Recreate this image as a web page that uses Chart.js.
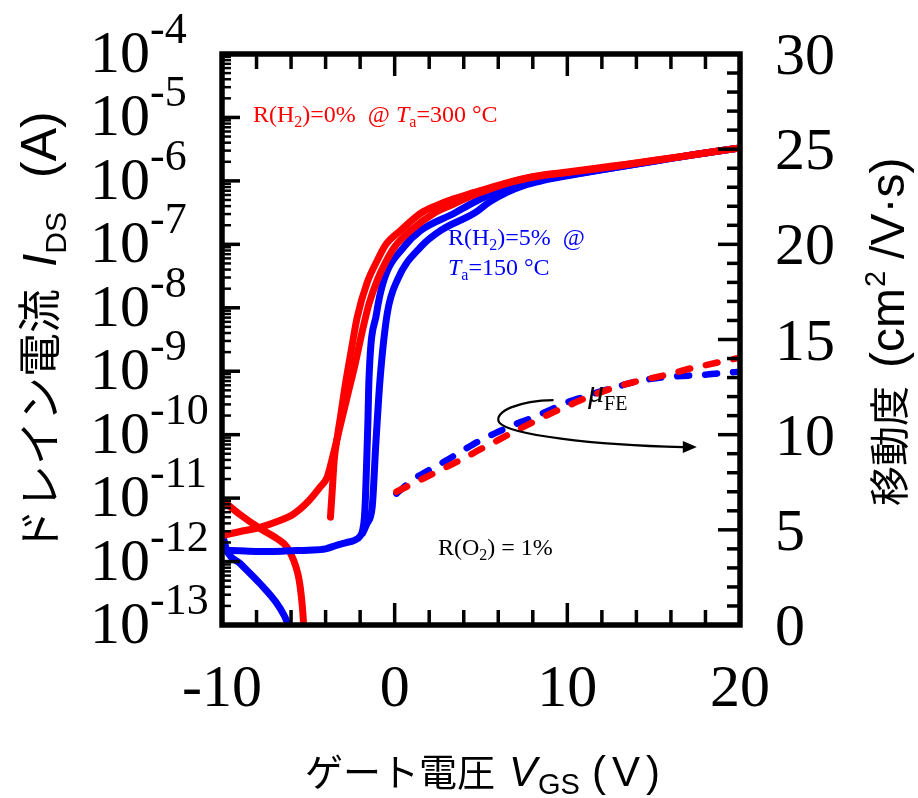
<!DOCTYPE html>
<html>
<head>
<meta charset="utf-8">
<script src="https://cdn.jsdelivr.net/npm/chart.js@4.4.1/dist/chart.umd.min.js"></script>
<style>
  html, body { margin: 0; padding: 0; background: #fff; }
  canvas { display: block; }
</style>
</head>
<body>
<canvas id="chart" width="918" height="798"></canvas>
<script>
// ---- data (V in volts, current as log10(A), mobility in cm2/Vs) ----
const redAV   = [-10, -9, -7.8, -6.8, -5.85, -5, -4.3, -3.91, -3.5, -3.1, -2.7, -2.3, -1.9, -1.5, -1.0, -0.5, 0, 0.93, 2.28, 3.45, 4.5, 5.5, 6.5, 7.5, 8.5, 10, 12.5, 15, 17.5, 20];
const redALog = [-11.59, -11.53, -11.46, -11.37, -11.25, -11.05, -10.82, -10.67, -10.25, -9.8, -9.35, -8.9, -8.4, -7.95, -7.56, -7.27, -7.04, -6.78, -6.51, -6.36, -6.23, -6.13, -6.04, -5.97, -5.92, -5.87, -5.78, -5.68, -5.58, -5.48];

const redBV   = [-3.72, -3.62, -3.5, -3.3, -3.1, -2.85, -2.5, -2.17, -1.59, -1.0, -0.5, 0.35, 1.51, 2.5, 3.45, 4.5, 5.5, 6.5, 7.5, 8.5, 10, 12.5, 15, 17.5, 20];
const redBLog = [-11.3, -10.9, -10.4, -10.0, -9.65, -9.2, -8.65, -8.15, -7.6, -7.25, -7.0, -6.78, -6.51, -6.38, -6.28, -6.19, -6.11, -6.03, -5.96, -5.91, -5.86, -5.77, -5.68, -5.58, -5.48];

const redGateV   = [-10, -9, -7.79, -6.8, -6.24, -5.85, -5.6, -5.47, -5.35, -5.27, -5.2];
const redGateLog = [-11.03, -11.25, -11.48, -11.64, -11.77, -11.98, -12.2, -12.4, -12.7, -13.0, -13.3];

const blueAV   = [-10, -9, -8, -7, -6, -5, -4, -3.33, -2.8, -2.37, -2.0, -1.85, -1.75, -1.69, -1.63, -1.55, -1.49, -1.05, -0.62, 0.54, 1.51, 3.45, 4.5, 5.5, 6.5, 7.5, 8.5, 10, 12.5, 15, 17.5, 20];
const blueALog = [-11.82, -11.83, -11.84, -11.84, -11.83, -11.82, -11.8, -11.74, -11.7, -11.67, -11.6, -11.5, -11.3, -10.98, -10.5, -9.8, -9.14, -8.09, -7.56, -7.04, -6.78, -6.51, -6.35, -6.22, -6.11, -6.03, -5.98, -5.91, -5.8, -5.69, -5.58, -5.48];

const blueBV   = [-1.85, -1.6, -1.3, -1.1, -0.85, -0.43, 0.16, 1.51, 2.67, 4.6, 5.5, 6.5, 7.5, 8.5, 10, 12.5, 15, 17.5, 20];
const blueBLog = [-11.55, -11.4, -11.14, -10.19, -9.14, -8.09, -7.56, -7.04, -6.78, -6.51, -6.33, -6.18, -6.07, -6.0, -5.92, -5.8, -5.69, -5.58, -5.48];

const blueGateV   = [-10, -9.85, -9.73, -8.95, -7.79, -6.82, -6.4, -6.0];
const blueGateLog = [-11.56, -11.7, -11.82, -12.03, -12.35, -12.66, -12.85, -13.1];

const muV     = [0.1, 1, 2, 3, 4, 5, 6, 7, 8, 9, 10, 11, 12, 13, 14, 15, 16, 17, 18, 19, 20];
const redMu   = [7.0, 7.4, 7.85, 8.3, 8.76, 9.25, 9.72, 10.2, 10.65, 11.1, 11.5, 11.9, 12.25, 12.55, 12.8, 13.0, 13.2, 13.45, 13.65, 13.85, 14.05];
const blueMu  = [6.9, 7.6, 8.15, 8.65, 9.2, 9.72, 10.15, 10.55, 10.9, 11.3, 11.7, 12.0, 12.3, 12.55, 12.8, 12.95, 13.05, 13.1, 13.15, 13.25, 13.3];

// axis ticks
const xMajor = [-10, 0, 10, 20];
const xMinor = [-8, -6, -4, -2, 2, 4, 6, 8, 12, 14, 16, 18];
const decades = [-4, -5, -6, -7, -8, -9, -10, -11, -12, -13];
const muMajor = [0, 5, 10, 15, 20, 25, 30];

const RED = '#ff0000';
const BLUE = '#0000ff';
const SERIF = '"Liberation Serif", "Times New Roman", serif';
const SANS = '"Liberation Sans", Arial, sans-serif';
const CJK = '"Noto Sans CJK JP", sans-serif';

function pts(xs, ys) {
    return xs.map((x, i) => ({ x: x, y: ys[i] }));
}
function logPts(xs, logs) {
    return xs.map((x, i) => ({ x: x, y: Math.pow(10, logs[i]) }));
}

function solid(data, color) {
    return { data: data, borderColor: color, borderWidth: 7, showLine: true, pointRadius: 0,
             cubicInterpolationMode: 'monotone', fill: false, yAxisID: 'y',
             borderCapStyle: 'round', borderJoinStyle: 'round' };
}
function dashed(data, color) {
    return { data: data, borderColor: color, borderWidth: 6.5, showLine: true, pointRadius: 0,
             cubicInterpolationMode: 'monotone', fill: false, yAxisID: 'y1',
             borderDash: [12, 16], borderCapStyle: 'round' };
}

// draw a run of text pieces left to right
function drawParts(ctx, parts, x, y) {
    let cx = x;
    parts.forEach(p => {
        ctx.font = p.font;
        ctx.fillText(p.t, cx, y + (p.dy || 0));
        cx += ctx.measureText(p.t).width + (p.gap || 0);
    });
    return cx;
}

const decorations = {
    id: 'decorations',
    afterDatasetsDraw(chart) {
        const { ctx, chartArea: a, scales } = chart;
        const x = scales.x, y = scales.y, y1 = scales.y1;
        ctx.save();
        ctx.strokeStyle = '#000';
        ctx.fillStyle = '#000';
        ctx.lineCap = 'butt';

        function seg(x0, y0, x2, y2) {
            ctx.beginPath(); ctx.moveTo(x0, y0); ctx.lineTo(x2, y2); ctx.stroke();
        }

        // x ticks, top and bottom, pointing inward
        ctx.lineWidth = 3.5;
        xMajor.concat(xMinor).forEach(v => {
            const px = x.getPixelForValue(v);
            const len = xMajor.includes(v) ? 22 : 15;
            seg(px, a.bottom, px, a.bottom - len);
            seg(px, a.top, px, a.top + len);
        });

        // log ticks on the left
        decades.forEach(d => {
            const py = y.getPixelForValue(Math.pow(10, d));
            ctx.lineWidth = 3.5;
            seg(a.left, py, a.left + 18, py);
            if (d < -4) {
                ctx.lineWidth = 2.5;
                for (let m = 2; m <= 9; m++) {
                    const pm = y.getPixelForValue(m * Math.pow(10, d));
                    seg(a.left, pm, a.left + 9, pm);
                }
            }
        });

        // mobility ticks on the right
        ctx.lineWidth = 3.5;
        for (let v = 0; v <= 30; v++) {
            const py = y1.getPixelForValue(v);
            const len = muMajor.includes(v) ? 22 : 13;
            seg(a.right, py, a.right - len, py);
        }

        // frame
        ctx.lineWidth = 5.5;
        ctx.strokeRect(a.left, a.top, a.width, a.height);

        // tick labels
        ctx.textBaseline = 'alphabetic';
        ctx.textAlign = 'center';
        ctx.font = '60px ' + SERIF;
        xMajor.forEach(v => ctx.fillText(String(v), x.getPixelForValue(v), 706));

        ctx.textAlign = 'left';
        muMajor.forEach(v => {
            ctx.font = '60px ' + SERIF;
            ctx.fillText(String(v), 775, y1.getPixelForValue(v) + 20);
        });

        decades.forEach(d => {
            const py = y.getPixelForValue(Math.pow(10, d));
            ctx.font = '60px ' + SERIF;
            ctx.fillText('10', 90, py + 18);
            const w = ctx.measureText('10').width;
            ctx.font = '44px ' + SERIF;
            ctx.fillText('-' + String(-d), 90 + w, py - 11);
        });

        // axis titles
        drawParts(ctx, [
            { t: 'ゲート電圧', font: '38px ' + CJK, gap: 14 },
            { t: 'V', font: 'italic 42px ' + SANS, gap: 1 },
            { t: 'GS', font: '29px ' + SANS, dy: 8, gap: 12 },
            { t: '(', font: '42px ' + SANS, gap: 6 },
            { t: 'V', font: '42px ' + SANS, gap: 6 },
            { t: ')', font: '42px ' + SANS }
        ], 305, 786);

        ctx.save();
        ctx.translate(0, 553);
        ctx.rotate(-Math.PI / 2);
        drawParts(ctx, [
            { t: 'ドレイン電流', font: '44px ' + CJK, gap: 22 },
            { t: 'I', font: 'italic 48px ' + SANS },
            { t: 'DS', font: '30px ' + SANS, dy: 10, gap: 34 },
            { t: '(A)', font: '50px ' + SANS }
        ], 0, 56);
        ctx.restore();

        ctx.save();
        ctx.translate(0, 506);
        ctx.rotate(-Math.PI / 2);
        drawParts(ctx, [
            { t: '移動度', font: '40px ' + CJK, gap: 18 },
            { t: '(cm', font: '48px ' + SANS, gap: 1 },
            { t: '2', font: '29px ' + SANS, dy: -19, gap: 12 },
            { t: '/V·s)', font: '48px ' + SANS }
        ], 0, 904);
        ctx.restore();

        // in-plot labels
        ctx.fillStyle = RED;
        drawParts(ctx, [
            { t: 'R(H', font: '24px ' + SERIF },
            { t: '2', font: '16px ' + SERIF, dy: 5 },
            { t: ')=0%  @ ', font: '24px ' + SERIF },
            { t: 'T', font: 'italic 24px ' + SERIF },
            { t: 'a', font: '16px ' + SERIF, dy: 5 },
            { t: '=300 °C', font: '24px ' + SERIF }
        ], 253, 122);

        ctx.fillStyle = BLUE;
        drawParts(ctx, [
            { t: 'R(H', font: '24px ' + SERIF },
            { t: '2', font: '16px ' + SERIF, dy: 5 },
            { t: ')=5%  @', font: '24px ' + SERIF }
        ], 448, 245);
        drawParts(ctx, [
            { t: 'T', font: 'italic 24px ' + SERIF },
            { t: 'a', font: '16px ' + SERIF, dy: 5 },
            { t: '=150 °C', font: '24px ' + SERIF }
        ], 448, 275);

        ctx.fillStyle = '#000';
        drawParts(ctx, [
            { t: 'R(O', font: '24px ' + SERIF },
            { t: '2', font: '16px ' + SERIF, dy: 5 },
            { t: ') = 1%', font: '24px ' + SERIF }
        ], 438, 555);
        drawParts(ctx, [
            { t: 'μ', font: 'italic 32px ' + SERIF },
            { t: 'FE', font: '20px ' + SERIF, dy: 8 }
        ], 588, 402);

        // curved arrow pointing to the mobility axis
        const ax = v => x.getPixelForValue(v);
        const ay = m => y1.getPixelForValue(m);
        ctx.lineWidth = 2.2;
        ctx.beginPath();
        ctx.moveTo(ax(9.2), ay(11.82));
        ctx.bezierCurveTo(ax(7.2), ay(11.8), ax(5.7), ay(11.2), ax(6.05), ay(10.65));
        ctx.bezierCurveTo(ax(6.6), ay(10.0), ax(11.5), ay(9.45), ax(16.7), ay(9.35));
        ctx.stroke();
        const tipX = ax(17.5), tipY = ay(9.35);
        ctx.beginPath();
        ctx.moveTo(tipX, tipY);
        ctx.lineTo(tipX - 14, tipY - 6);
        ctx.lineTo(tipX - 14, tipY + 6);
        ctx.closePath();
        ctx.fill();

        ctx.restore();
    }
};

const ctx = document.getElementById('chart').getContext('2d');
new Chart(ctx, {
    type: 'scatter',
    data: {
        datasets: [
            solid(logPts(redAV, redALog), RED),
            solid(logPts(redBV, redBLog), RED),
            solid(logPts(blueAV, blueALog), BLUE),
            solid(logPts(blueBV, blueBLog), BLUE),
            solid(logPts(blueGateV, blueGateLog), BLUE),
            solid(logPts(redGateV, redGateLog), RED),
            dashed(pts(muV, redMu), RED),
            dashed(pts(muV, blueMu), BLUE)
        ]
    },
    options: {
        responsive: false,
        animation: false,
        devicePixelRatio: 1,
        layout: { padding: { left: 222, right: 178, top: 54, bottom: 173 } },
        plugins: { legend: { display: false }, tooltip: { enabled: false } },
        scales: {
            x: { type: 'linear', min: -10, max: 20, display: false },
            y: { type: 'logarithmic', min: 1e-13, max: 1e-4, display: false },
            y1: { type: 'linear', position: 'right', min: 0, max: 30, display: false }
        }
    },
    plugins: [decorations]
});
</script>
</body>
</html>
